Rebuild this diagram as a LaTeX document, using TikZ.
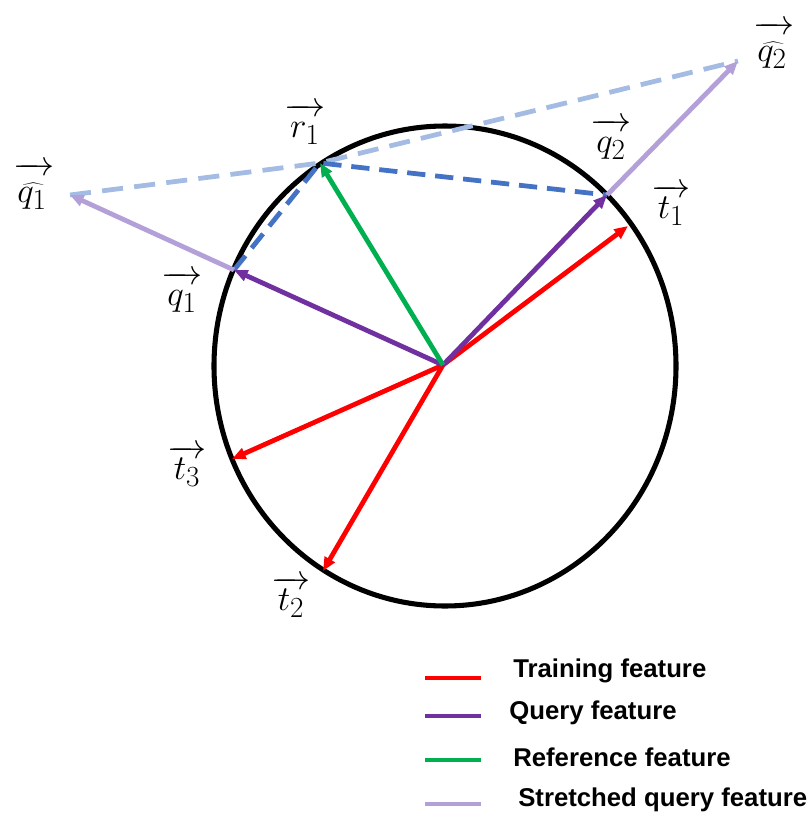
\documentclass[tikz,border=0pt]{standalone}
\usepackage{fontspec}
\setsansfont{Liberation Sans}
\usetikzlibrary{arrows.meta}
\definecolor{TrainRed}{HTML}{FF0000}
\definecolor{QueryPurple}{HTML}{7030A0}
\definecolor{RefGreen}{HTML}{00B050}
\definecolor{StretchLilac}{HTML}{B4A0D8}
\definecolor{DashLight}{HTML}{A4BCE4}
\definecolor{DashDark}{HTML}{4472C4}
\tikzset{
  vec/.style={-{Triangle[length=3.4mm,width=2.8mm]}, line width=3.4pt},
  training/.style={vec, draw=TrainRed, TrainRed},
  query/.style={vec, draw=QueryPurple, QueryPurple},
  reference/.style={vec, draw=RefGreen, RefGreen},
  stretched/.style={vec, draw=StretchLilac, StretchLilac},
  lightdash/.style={draw=DashLight, line width=3.4pt, dash pattern=on 15pt off 8pt},
  darkdash/.style={draw=DashDark, line width=3.4pt, dash pattern=on 13pt off 7pt},
  veclabel/.style={font=\fontsize{32}{38}\selectfont, inner sep=0pt},
  keyline/.style={line width=3.4pt},
  keytext/.style={font=\sffamily\bfseries\fontsize{18.3}{22}\selectfont, anchor=west, inner sep=0pt},
}

\begin{document}
\begin{tikzpicture}[x=0.025cm, y=-0.025cm]
  \useasboundingbox (0,0) rectangle (810,815);

  % Sphere and feature end points.
  \draw[line width=3.6pt] (445,366) ellipse [x radius=231, y radius=240];
  \coordinate (O) at (443,365);
  \coordinate (t1) at (628,226);
  \coordinate (t2) at (323,571);
  \coordinate (t3) at (232,459);
  \coordinate (q1) at (234,270);
  \coordinate (q2) at (607,195);
  \coordinate (r1) at (320,163);
  \coordinate (q1hat) at (70,195);
  \coordinate (q2hat) at (738,61);

  % Dashed guides.
  \draw[lightdash] (q1hat) -- (r1) -- (q2hat);
  \draw[darkdash] (q1) -- (r1) -- (q2);

  % Feature vectors.
  \draw[training] (O) -- (t1);
  \draw[training] (O) -- (t2);
  \draw[training] (O) -- (t3);
  \draw[stretched] (q1) -- (q1hat);
  \draw[stretched] (q2) -- (q2hat);
  \draw[query] (O) -- (q1);
  \draw[query] (O) -- (q2);
  \draw[reference] (O) -- (r1);

  % Labels.
  \node[veclabel] (lr1) at (305,124) {$\overrightarrow{\mkern3mu r_{1}\rule{0pt}{0.5em}\mkern3mu}$};
  \node[veclabel] (lq2) at (611,139) {$\overrightarrow{\mkern3mu q_{2}\rule{0pt}{0.5em}\mkern3mu}$};
  \node[veclabel] (lt1) at (671,205) {$\overrightarrow{\mkern3mu t_{1}\rule{0pt}{0.5em}\mkern3mu}$};
  \node[veclabel] (lq1) at (182,292) {$\overrightarrow{\mkern3mu q_{1}\rule{0pt}{0.5em}\mkern3mu}$};
  \node[veclabel] (lt3) at (187,466) {$\overrightarrow{\mkern3mu t_{3}\rule{0pt}{0.5em}\mkern3mu}$};
  \node[veclabel] (lt2) at (291,597) {$\overrightarrow{\mkern3mu t_{2}\rule{0pt}{0.5em}\mkern3mu}$};
  \node[veclabel] (lq1hat) at (34,186) {$\overrightarrow{\mkern2mu\widehat{q_{1}\mkern2mu}\rule{0pt}{0.64em}\mkern2mu}$};
  \node[veclabel] (lq2hat) at (774,45) {$\overrightarrow{\mkern2mu\widehat{q_{2}\mkern2mu}\rule{0pt}{0.64em}\mkern2mu}$};

  % Key.
  \coordinate (k1a) at (425,678); \coordinate (k1b) at (481,678);
  \coordinate (k2a) at (425,716); \coordinate (k2b) at (481,716);
  \coordinate (k3a) at (425,760); \coordinate (k3b) at (481,760);
  \coordinate (k4a) at (425,804); \coordinate (k4b) at (481,804);
  \draw[keyline, TrainRed] (k1a) -- (k1b);
  \draw[keyline, QueryPurple] (k2a) -- (k2b);
  \draw[keyline, RefGreen] (k3a) -- (k3b);
  \draw[keyline, StretchLilac] (k4a) -- (k4b);
  \node[keytext] (ktrain) at (513,671) {Training feature};
  \node[keytext] (kquery) at (509,713) {Query feature};
  \node[keytext] (kref) at (513,757) {Reference feature};
  \node[keytext] (kstretch) at (518,800) {Stretched query feature};
\end{tikzpicture}
\end{document}
